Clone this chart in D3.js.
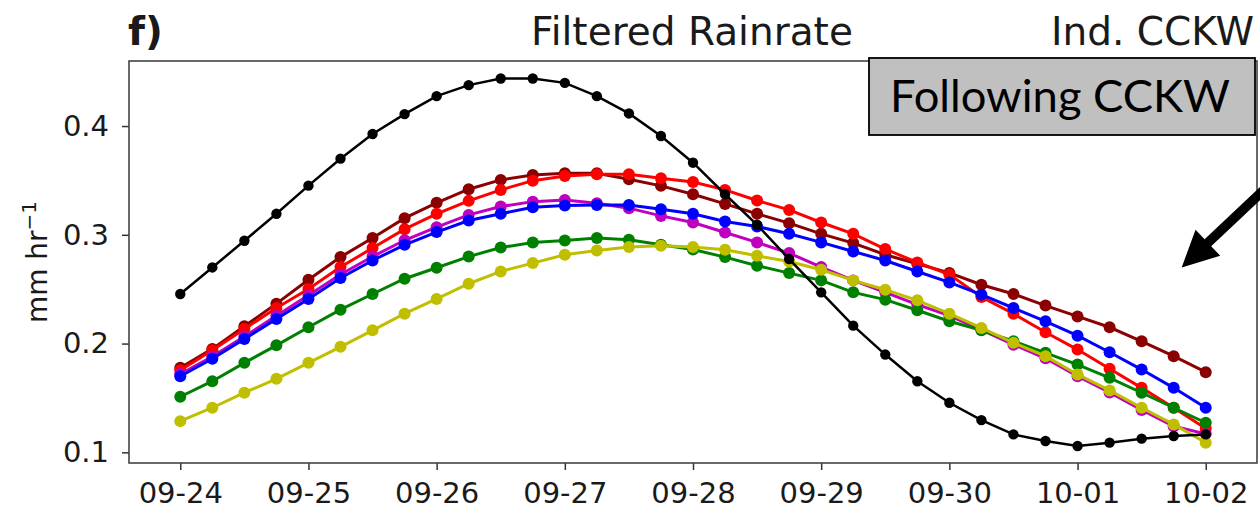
<!DOCTYPE html>
<html>
<head>
<meta charset="utf-8">
<script src="https://cdn.jsdelivr.net/npm/d3@7/dist/d3.min.js"></script>
<style>
  body { margin: 0; background: #fff; }
  text { font-family: "DejaVu Sans", sans-serif; fill: #1a1a1a; }
</style>
</head>
<body>
<svg id="chart" width="1260" height="510"></svg>
<script>
// Data: filtered rainrate (mm/hr), one value every 6 h from 09-24 00:00 to 10-02 00:00
var tickLabels = ['09-24', '09-25', '09-26', '09-27', '09-28', '09-29', '09-30', '10-01', '10-02'];
var yTicks = [0.1, 0.2, 0.3, 0.4];

var blackVals = [0.2456, 0.270, 0.2945, 0.3193, 0.3452, 0.370, 0.3927, 0.411, 0.4275,
	0.4376, 0.4437, 0.4437, 0.4397, 0.4275, 0.4116, 0.3908, 0.3663,
	0.3373, 0.3092, 0.2777, 0.2471, 0.2165, 0.1899, 0.1654, 0.1456,
	0.1296, 0.1165, 0.1104, 0.1058, 0.1089, 0.1126, 0.115, 0.1165];
var darkRedVals = [0.1777, 0.1951, 0.2159, 0.2367, 0.2587, 0.2795, 0.2970, 0.3153, 0.3294,
	0.3419, 0.3505, 0.355, 0.3566, 0.3566, 0.3511, 0.345, 0.3373,
	0.3284, 0.3193, 0.3107, 0.3009, 0.2924, 0.2817, 0.2734, 0.265,
	0.2541, 0.2456, 0.2349, 0.225, 0.215, 0.2021, 0.1884, 0.1737];
var redVals = [0.1755, 0.1938, 0.2135, 0.2327, 0.2502, 0.2704, 0.2878, 0.3052, 0.3193,
	0.3312, 0.3413, 0.3498, 0.3541, 0.3557, 0.3557, 0.352, 0.3485,
	0.3413, 0.3315, 0.3229, 0.3113, 0.3009, 0.2869, 0.2746, 0.2635,
	0.2428, 0.2275, 0.2104, 0.1945, 0.1768, 0.1593, 0.141, 0.122];
var magentaVals = [0.172, 0.188, 0.2065, 0.2255, 0.2445, 0.2635, 0.280, 0.295, 0.307,
	0.3183, 0.326, 0.3305, 0.332, 0.329, 0.3245, 0.3174, 0.3113,
	0.3021, 0.293, 0.2832, 0.2704, 0.2581, 0.2471, 0.2358, 0.2257,
	0.2125, 0.199, 0.1865, 0.170, 0.155, 0.139, 0.124, 0.117];
var blueVals = [0.170, 0.186, 0.2043, 0.2227, 0.241, 0.2603, 0.2764, 0.2908, 0.3025,
	0.3131, 0.3193, 0.3254, 0.3269, 0.3275, 0.3275, 0.3236, 0.3193,
	0.3122, 0.3076, 0.3009, 0.293, 0.2847, 0.2764, 0.2663, 0.2562,
	0.245, 0.2327, 0.2205, 0.2073, 0.192, 0.1761, 0.1593, 0.141];
var greenVals = [0.1511, 0.1654, 0.1823, 0.1984, 0.215, 0.2312, 0.2456, 0.2596, 0.2697,
	0.28, 0.2883, 0.2929, 0.2948, 0.297, 0.2954, 0.2908, 0.2865,
	0.2795, 0.2716, 0.2648, 0.2581, 0.2471, 0.2404, 0.2306, 0.2205,
	0.2122, 0.2021, 0.1915, 0.1807, 0.1685, 0.1548, 0.141, 0.1272];
var yellowVals = [0.1287, 0.141, 0.1548, 0.1676, 0.1823, 0.197, 0.2122, 0.2275, 0.241,
	0.255, 0.2663, 0.274, 0.2817, 0.2856, 0.2887, 0.2899, 0.2887,
	0.2862, 0.2807, 0.2755, 0.2679, 0.2581, 0.2495, 0.2398, 0.2275,
	0.2144, 0.2007, 0.1884, 0.1716, 0.1569, 0.141, 0.1257, 0.1089];

var series = [
	{values: darkRedVals, color: '#8b0000'},
	{values: redVals, color: '#ff0000'},
	{values: magentaVals, color: '#bf00bf'},
	{values: blueVals, color: '#0000ff'},
	{values: greenVals, color: '#008000'},
	{values: yellowVals, color: '#bfbf00'},
	{values: blackVals, color: '#000000'}
];

var parseDay = d3.timeParse('%Y-%m-%d');
var tickDates = tickLabels.map(function(l) { return parseDay('2023-' + l); });
var times = blackVals.map(function(v, i) { return d3.timeHour.offset(tickDates[0], i * 6); });

var svg = d3.select('#chart');

// Dimensions
var margin = {top: 61, right: 3, bottom: 47, left: 129};
var width = +svg.attr('width') - margin.left - margin.right;
var height = +svg.attr('height') - margin.top - margin.bottom;

// Scales (5% padding like matplotlib)
var x0 = tickDates[0], x1 = tickDates[tickDates.length - 1];
var xPad = (x1 - x0) * 0.05;
var x = d3.scaleTime()
	.domain([new Date(+x0 - xPad), new Date(+x1 + xPad)])
	.range([margin.left, margin.left + width]);
var y = d3.scaleLinear()
	.domain([0.0902, 0.4598])
	.range([margin.top + height, margin.top]);

// Lines + markers
var line = d3.line()
	.x(function(d, i) { return x(times[i]); })
	.y(function(d) { return y(d); });

var g = svg.append('g');
series.forEach(function(s) {
	var isBlack = s.color === '#000000';
	var sg = g.append('g').attr('class', 'series');
	sg.append('path')
		.datum(s.values)
		.attr('fill', 'none')
		.attr('stroke', s.color)
		.attr('stroke-width', isBlack ? 2.5 : 3)
		.attr('d', line);
	sg.selectAll('circle')
		.data(s.values)
		.enter().append('circle')
			.attr('cx', function(d, i) { return x(times[i]); })
			.attr('cy', function(d) { return y(d); })
			.attr('r', isBlack ? 5.2 : 6)
			.attr('fill', s.color);
});

// X axis
var xAxis = svg.append('g')
	.attr('transform', 'translate(0,' + (margin.top + height) + ')')
	.call(d3.axisBottom(x).tickValues(tickDates).tickFormat(d3.timeFormat('%m-%d')).tickSize(7).tickPadding(12));
xAxis.select('.domain').remove();
xAxis.selectAll('line').attr('stroke', '#333').attr('stroke-width', 1.5);
xAxis.selectAll('text').attr('font-size', 29).attr('font-family', '"DejaVu Sans", sans-serif').attr('fill', '#1a1a1a');

// Y axis
var yAxis = svg.append('g')
	.attr('transform', 'translate(' + margin.left + ',0)')
	.call(d3.axisLeft(y).tickValues(yTicks).tickFormat(d3.format('.1f')).tickSize(7).tickPadding(13));
yAxis.select('.domain').remove();
yAxis.selectAll('line').attr('stroke', '#333').attr('stroke-width', 1.5);
yAxis.selectAll('text').attr('font-size', 29).attr('font-family', '"DejaVu Sans", sans-serif').attr('fill', '#1a1a1a');

// Frame
svg.append('rect')
	.attr('x', margin.left).attr('y', margin.top)
	.attr('width', width).attr('height', height)
	.attr('fill', 'none').attr('stroke', '#444').attr('stroke-width', 1.6);

// Y label
var yl = svg.append('text')
	.attr('transform', 'translate(47,' + (margin.top + height / 2) + ') rotate(-90)')
	.attr('text-anchor', 'middle')
	.attr('font-size', 28);
yl.append('tspan').text('mm hr');
yl.append('tspan').attr('font-size', 20).attr('dy', -11).text('\u22121');

// Titles
svg.append('text').attr('x', 128).attr('y', 45).attr('font-size', 39).attr('font-weight', 'bold').text('f)');
svg.append('text').attr('x', 692).attr('y', 45).attr('font-size', 39)
	.attr('text-anchor', 'middle').text('Filtered Rainrate');
svg.append('text').attr('x', 1254).attr('y', 45).attr('font-size', 39)
	.attr('text-anchor', 'end').text('Ind. CCKW');

// Annotation box
svg.append('rect')
	.attr('x', 869).attr('y', 58).attr('width', 386).attr('height', 77)
	.attr('fill', '#c0c0c0').attr('stroke', '#000').attr('stroke-width', 1.8);
var boxText = svg.append('text')
	.attr('x', 890).attr('y', 112)
	.attr('font-size', 44)
	.style('font-family', 'Lato, "Open Sans", sans-serif')
	.style('fill', '#000')
	.text('Following CCKW');
var bw = boxText.node().getComputedTextLength();
boxText.attr('font-size', 44 * 340 / bw);

// Arrow
var tip = [x(d3.timeMinute.offset(tickDates[7], 19 * 60 + 30)), y(0.27)];
var tail = [1266, 188];
var dx = tip[0] - tail[0], dy = tip[1] - tail[1];
var len = Math.sqrt(dx * dx + dy * dy);
var ux = dx / len, uy = dy / len, px = -uy, py = ux;
var headLen = 36, headW = 18, shaftW = 4.8;
var bx = tip[0] - ux * headLen, by = tip[1] - uy * headLen;
var pts = [
	[tail[0] + px * shaftW, tail[1] + py * shaftW],
	[bx + px * shaftW, by + py * shaftW],
	[bx + px * headW, by + py * headW],
	tip,
	[bx - px * headW, by - py * headW],
	[bx - px * shaftW, by - py * shaftW],
	[tail[0] - px * shaftW, tail[1] - py * shaftW]
];
svg.append('path')
	.attr('d', 'M' + pts.map(function(p) { return p.join(','); }).join('L') + 'Z')
	.attr('fill', '#000');
</script>
</body>
</html>
